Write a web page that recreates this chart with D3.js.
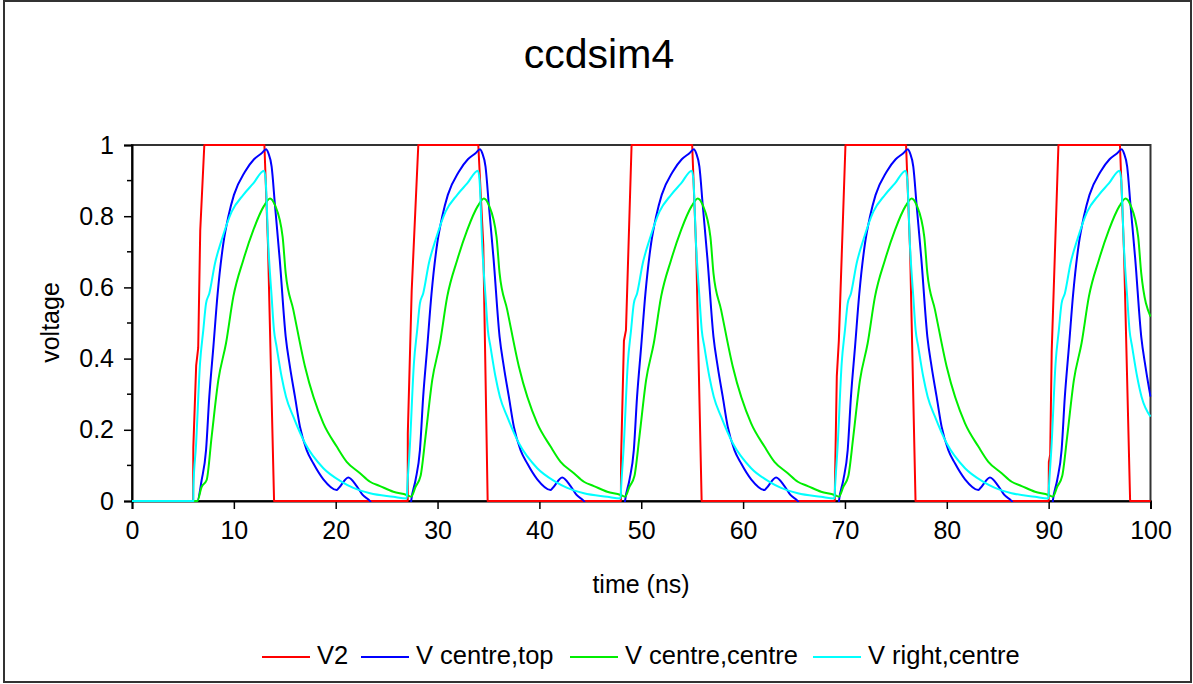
<!DOCTYPE html>
<html>
<head>
<meta charset="utf-8">
<script src="https://cdn.jsdelivr.net/npm/d3@7"></script>
<style>
html,body{margin:0;padding:0;background:#fff;}
svg{display:block;font-family:"Liberation Sans",Arial,sans-serif;}
</style>
</head>
<body>
<svg id="chart" width="1193" height="684"></svg>
<script>
const title = "ccdsim4";
const xTicks = [0,10,20,30,40,50,60,70,80,90,100];
const yTicks = [0,0.2,0.4,0.6,0.8,1];
const yMinorTicks = [0.1,0.3,0.5,0.7,0.9];
const seriesNames = ["V2","V centre,top","V centre,centre","V right,centre"];
const seriesColors = ["#ff0000","#0000ff","#00ee00","#00ffff"];

const v2 = [[0,0],[6.0,0],[6.02,0.15],[6.3,0.38],[6.5,0.43],[6.7,0.76],[7.1,1],[13.0,1],[13.35,0.72],[13.95,0],
[27.07,0],[27.08,0.19],[27.46,0.59],[28.11,1],[34.0,1],[34.49,0.72],[34.92,0],
[48.0,0],[48.02,0.12],[48.3,0.45],[48.5,0.48],[49.05,1],[55.0,1],[55.4,0.7],[55.93,0],
[69.0,0],[69.02,0.05],[69.2,0.35],[69.4,0.45],[70.05,1],[76.0,1],[76.4,0.7],[76.93,0],
[90.0,0],[90.02,0.11],[90.15,0.13],[90.3,0.42],[90.96,1],[97.0,1],[97.4,0.7],[98.0,0],[100,0]];

const vCentreTop = [[0,0],[6.41,0],[6.84,0.059],[7.27,0.143],[7.59,0.293],[7.99,0.433],[8.41,0.583],[8.97,0.724],[9.46,0.799],[10.01,0.86],[11.09,0.925],[11.98,0.96],[12.73,0.977],[13.16,0.988],[13.39,0.977],[13.71,0.939],[14.04,0.83],[14.5,0.68],[15.09,0.462],[15.51,0.377],[16.0,0.293],[16.49,0.209],[17.15,0.143],[17.8,0.106],[18.79,0.061],[20.1,0.031],[20.26,0.035],[21.24,0.066],[22.06,0.042],[22.65,0.017],[23.37,0],[24.0,-0.03],
[27.3,-0.03],[27.41,0],[27.84,0.059],[28.27,0.143],[28.59,0.293],[28.99,0.433],[29.41,0.583],[29.97,0.724],[30.46,0.799],[31.01,0.86],[32.09,0.925],[32.98,0.96],[33.73,0.977],[34.16,0.988],[34.39,0.977],[34.71,0.939],[35.04,0.83],[35.5,0.68],[36.09,0.462],[36.51,0.377],[37.0,0.293],[37.49,0.209],[38.15,0.143],[38.8,0.106],[39.79,0.061],[41.1,0.031],[41.26,0.035],[42.24,0.066],[43.06,0.042],[43.65,0.017],[44.37,0],[45.0,-0.03],
[48.3,-0.03],[48.41,0],[48.84,0.059],[49.27,0.143],[49.59,0.293],[49.99,0.433],[50.41,0.583],[50.97,0.724],[51.46,0.799],[52.01,0.86],[53.09,0.925],[53.98,0.96],[54.73,0.977],[55.16,0.988],[55.39,0.977],[55.71,0.939],[56.04,0.83],[56.5,0.68],[57.09,0.462],[57.51,0.377],[58.0,0.293],[58.49,0.209],[59.15,0.143],[59.8,0.106],[60.79,0.061],[62.1,0.031],[62.26,0.035],[63.24,0.066],[64.06,0.042],[64.65,0.017],[65.37,0],[66.0,-0.03],
[69.3,-0.03],[69.41,0],[69.84,0.059],[70.27,0.143],[70.59,0.293],[70.99,0.433],[71.41,0.583],[71.97,0.724],[72.46,0.799],[73.01,0.86],[74.09,0.925],[74.98,0.96],[75.73,0.977],[76.16,0.988],[76.39,0.977],[76.71,0.939],[77.04,0.83],[77.5,0.68],[78.09,0.462],[78.51,0.377],[79.0,0.293],[79.49,0.209],[80.15,0.143],[80.8,0.106],[81.79,0.061],[83.1,0.031],[83.26,0.035],[84.24,0.066],[85.06,0.042],[85.65,0.017],[86.37,0],[87.0,-0.03],
[90.3,-0.03],[90.41,0],[90.84,0.059],[91.27,0.143],[91.59,0.293],[91.99,0.433],[92.41,0.583],[92.97,0.724],[93.46,0.799],[94.01,0.86],[95.09,0.925],[95.98,0.96],[96.73,0.977],[97.16,0.988],[97.39,0.977],[97.71,0.939],[98.04,0.83],[98.5,0.68],[99.09,0.462],[99.51,0.377],[100.0,0.293]];

const vCentreCentre = [[0,0],[6.41,0],[6.84,0.04],[7.33,0.059],[7.82,0.181],[8.48,0.34],[9.23,0.443],[9.95,0.574],[10.93,0.677],[11.91,0.761],[12.96,0.829],[13.55,0.85],[14.04,0.831],[14.79,0.742],[15.09,0.64],[15.84,0.537],[16.99,0.377],[18.79,0.218],[20.1,0.153],[21.08,0.11],[22.39,0.078],[23.37,0.054],[24.35,0.042],[25.66,0.026],[26.97,0.017],[27.41,0.012],
[27.84,0.04],[28.33,0.07],[28.82,0.181],[29.48,0.34],[30.23,0.443],[30.95,0.574],[31.93,0.677],[32.91,0.761],[33.96,0.829],[34.55,0.85],[35.04,0.831],[35.79,0.742],[36.09,0.64],[36.84,0.537],[37.99,0.377],[39.79,0.218],[41.1,0.153],[42.08,0.11],[43.39,0.078],[44.37,0.054],[45.35,0.042],[46.66,0.026],[47.97,0.017],[48.41,0.012],
[48.84,0.04],[49.33,0.07],[49.82,0.181],[50.48,0.34],[51.23,0.443],[51.95,0.574],[52.93,0.677],[53.91,0.761],[54.96,0.829],[55.55,0.85],[56.04,0.831],[56.79,0.742],[57.09,0.64],[57.84,0.537],[58.99,0.377],[60.79,0.218],[62.1,0.153],[63.08,0.11],[64.39,0.078],[65.37,0.054],[66.35,0.042],[67.66,0.026],[68.97,0.017],[69.41,0.012],
[69.84,0.04],[70.33,0.07],[70.82,0.181],[71.48,0.34],[72.23,0.443],[72.95,0.574],[73.93,0.677],[74.91,0.761],[75.96,0.829],[76.55,0.85],[77.04,0.831],[77.79,0.742],[78.09,0.64],[78.84,0.537],[79.99,0.377],[81.79,0.218],[83.1,0.153],[84.08,0.11],[85.39,0.078],[86.37,0.054],[87.35,0.042],[88.66,0.026],[89.97,0.017],[90.41,0.012],
[90.84,0.04],[91.33,0.07],[91.82,0.181],[92.48,0.34],[93.23,0.443],[93.95,0.574],[94.93,0.677],[95.91,0.761],[96.96,0.829],[97.55,0.85],[98.04,0.831],[98.79,0.742],[99.09,0.64],[100,0.518]];

const vRightCentre = [[0,0],[6.02,0],[6.03,0.04],[6.28,0.153],[6.68,0.387],[7.0,0.48],[7.27,0.555],[7.59,0.583],[8.15,0.668],[8.8,0.733],[9.79,0.813],[10.93,0.86],[11.91,0.892],[12.96,0.928],[13.12,0.902],[13.39,0.714],[13.71,0.574],[13.94,0.48],[14.2,0.433],[14.69,0.349],[15.12,0.293],[15.84,0.237],[16.99,0.162],[18.79,0.092],[20.59,0.054],[21.73,0.037],[23.37,0.022],[25.66,0.012],[26.97,0.007],
[27.03,0.04],[27.28,0.153],[27.68,0.387],[28.0,0.48],[28.27,0.555],[28.59,0.583],[29.15,0.668],[29.8,0.733],[30.79,0.813],[31.93,0.86],[32.91,0.892],[33.96,0.928],[34.12,0.902],[34.39,0.714],[34.71,0.574],[34.94,0.48],[35.2,0.433],[35.69,0.349],[36.12,0.293],[36.84,0.237],[37.99,0.162],[39.79,0.092],[41.59,0.054],[42.73,0.037],[44.37,0.022],[46.66,0.012],[47.97,0.007],
[48.03,0.04],[48.28,0.153],[48.68,0.387],[49.0,0.48],[49.27,0.555],[49.59,0.583],[50.15,0.668],[50.8,0.733],[51.79,0.813],[52.93,0.86],[53.91,0.892],[54.96,0.928],[55.12,0.902],[55.39,0.714],[55.71,0.574],[55.94,0.48],[56.2,0.433],[56.69,0.349],[57.12,0.293],[57.84,0.237],[58.99,0.162],[60.79,0.092],[62.59,0.054],[63.73,0.037],[65.37,0.022],[67.66,0.012],[68.97,0.007],
[69.03,0.04],[69.28,0.153],[69.68,0.387],[70.0,0.48],[70.27,0.555],[70.59,0.583],[71.15,0.668],[71.8,0.733],[72.79,0.813],[73.93,0.86],[74.91,0.892],[75.96,0.928],[76.12,0.902],[76.39,0.714],[76.71,0.574],[76.94,0.48],[77.2,0.433],[77.69,0.349],[78.12,0.293],[78.84,0.237],[79.99,0.162],[81.79,0.092],[83.59,0.054],[84.73,0.037],[86.37,0.022],[88.66,0.012],[89.97,0.007],
[90.03,0.04],[90.28,0.153],[90.68,0.387],[91.0,0.48],[91.27,0.555],[91.59,0.583],[92.15,0.668],[92.8,0.733],[93.79,0.813],[94.93,0.86],[95.91,0.892],[96.96,0.928],[97.12,0.902],[97.39,0.714],[97.71,0.574],[97.94,0.48],[98.2,0.433],[98.69,0.349],[99.12,0.293],[100,0.237]];

const allSeries = [v2, vCentreTop, vCentreCentre, vRightCentre];

const svg = d3.select("#chart");
const X0 = 132, X1 = 1150.5, Y0 = 501, Y1 = 145;
const x = d3.scaleLinear().domain([0,100]).range([X0, X1]);
const y = d3.scaleLinear().domain([0,1]).range([Y0, Y1]);

// outer border
svg.append("rect").attr("x",4).attr("y",1).attr("width",1187).attr("height",681)
  .attr("fill","#fff").attr("stroke","#333").attr("stroke-width",2);

// title
svg.append("text").attr("x",599).attr("y",68).attr("text-anchor","middle")
  .attr("font-size",41).attr("fill","#000").text(title);

// plot frame
svg.append("rect").attr("x",X0).attr("y",Y1).attr("width",X1-X0).attr("height",Y0-Y1)
  .attr("fill","none").attr("stroke","#333").attr("stroke-width",2);

// y axis
const yAxis = d3.axisLeft(y).tickValues(yTicks).tickSize(8).tickPadding(10).tickFormat(d3.format("~g"));
const gy = svg.append("g").attr("transform",`translate(${X0},0)`).call(yAxis);
gy.append("g").selectAll("line").data(yMinorTicks).join("line")
  .attr("x1",-5).attr("x2",0).attr("y1",d=>y(d)).attr("y2",d=>y(d)).attr("stroke","#000").attr("stroke-width",1.5);
// x axis
const xAxis = d3.axisBottom(x).tickValues(xTicks).tickSize(8).tickPadding(12);
const gx = svg.append("g").attr("transform",`translate(0,${Y0})`).call(xAxis);
[gx, gy].forEach(g=>{
  g.select(".domain").attr("stroke","#000").attr("stroke-width",2);
  g.selectAll(".tick line").attr("stroke","#000").attr("stroke-width",1.5);
  g.selectAll(".tick text").attr("font-size",25).attr("fill","#000").attr("font-family","Liberation Sans, Arial, sans-serif");
});

// clip
svg.append("clipPath").attr("id","clip").append("rect")
  .attr("x",X0-1).attr("y",Y1-2).attr("width",X1-X0+2).attr("height",Y0-Y1+3);

const lineLin = d3.line().x(d=>x(d[0])).y(d=>y(d[1]));
const lineSmooth = d3.line().x(d=>x(d[0])).y(d=>y(d[1])).curve(d3.curveMonotoneX);
const gl = svg.append("g").attr("clip-path","url(#clip)");
allSeries.forEach((s,i)=>{
  gl.append("path").datum(s).attr("d", i===0 ? lineLin : lineSmooth).attr("fill","none")
    .attr("stroke",seriesColors[i]).attr("stroke-width",2).attr("stroke-linejoin","round");
});

// axis titles
svg.append("text").attr("x",641).attr("y",593).attr("text-anchor","middle")
  .attr("font-size",25).attr("fill","#000").text("time (ns)");
svg.append("text").attr("transform","translate(59,322.5) rotate(-90)").attr("text-anchor","middle")
  .attr("font-size",25).attr("fill","#000").text("voltage");

// legend
const legendX = [262, 361, 570, 813];
const lg = svg.append("g");
seriesNames.forEach((n,i)=>{
  lg.append("line").attr("x1",legendX[i]).attr("x2",legendX[i]+48).attr("y1",657).attr("y2",657)
    .attr("stroke",seriesColors[i]).attr("stroke-width",2);
  lg.append("text").attr("x",legendX[i]+55).attr("y",663.5).attr("font-size",25.5).attr("fill","#000").text(n);
});
</script>
</body>
</html>
